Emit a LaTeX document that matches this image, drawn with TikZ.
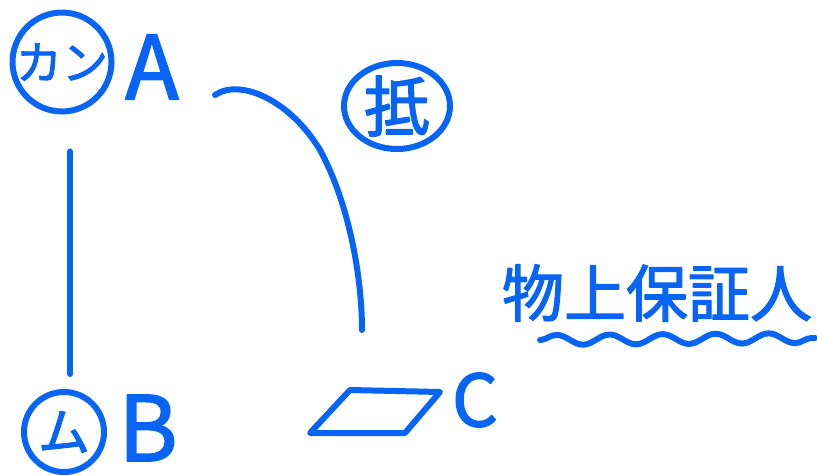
\documentclass[tikz,border=0pt]{standalone}
\usepackage{fontspec}
\newfontfamily\jp{Noto Sans CJK JP}[FakeBold=2]
\usetikzlibrary{shapes.geometric,decorations.pathmorphing}
\definecolor{pen}{RGB}{8,100,245}

\begin{document}
\begin{tikzpicture}[x=1pt,y=-1pt,line width=6pt,line cap=round,line join=round,color=pen,
  every node/.style={inner sep=0pt},
  ring/.style={draw,circle},
  big/.style={font=\jp\fontsize{#1}{#1}\selectfont}]
\useasboundingbox (0,0) rectangle (817,476);
% parties
\node[ring,minimum size=98pt,big=46] (kan) at (62,62) {カン};
\node[big=88] (a) at (152,67) {A};
\node[ring,minimum size=80pt,big=52] (mu) at (64,432) {ム};
\node[big=90] (b) at (148,428) {B};
\draw[shorten <=37pt,shorten >=15pt] ([xshift=8pt]kan.south) -- ([xshift=6pt]mu.north);
% mortgage
\node[draw,ellipse,minimum width=106pt,minimum height=86pt,big=66] (tei) at (397,106) {抵};
\coordinate (hook) at (215,95);
\coordinate (tip) at (362,330);
\draw (hook) .. controls (240,78) and (290,100) .. (320,150) .. controls (350,205) and (362,280) .. (tip);
% land of C
\draw (350,390) -- (440,392) -- (405,433) -- (310,433) -- cycle;
\node[big=72] (c) at (475,400) {C};
\node[big=62] (butsu) at (657,293) {物上保証人};
\draw[decorate,decoration={snake,amplitude=5pt,segment length=53pt}] (540,340) -- (815,338);
\end{tikzpicture}
\end{document}
